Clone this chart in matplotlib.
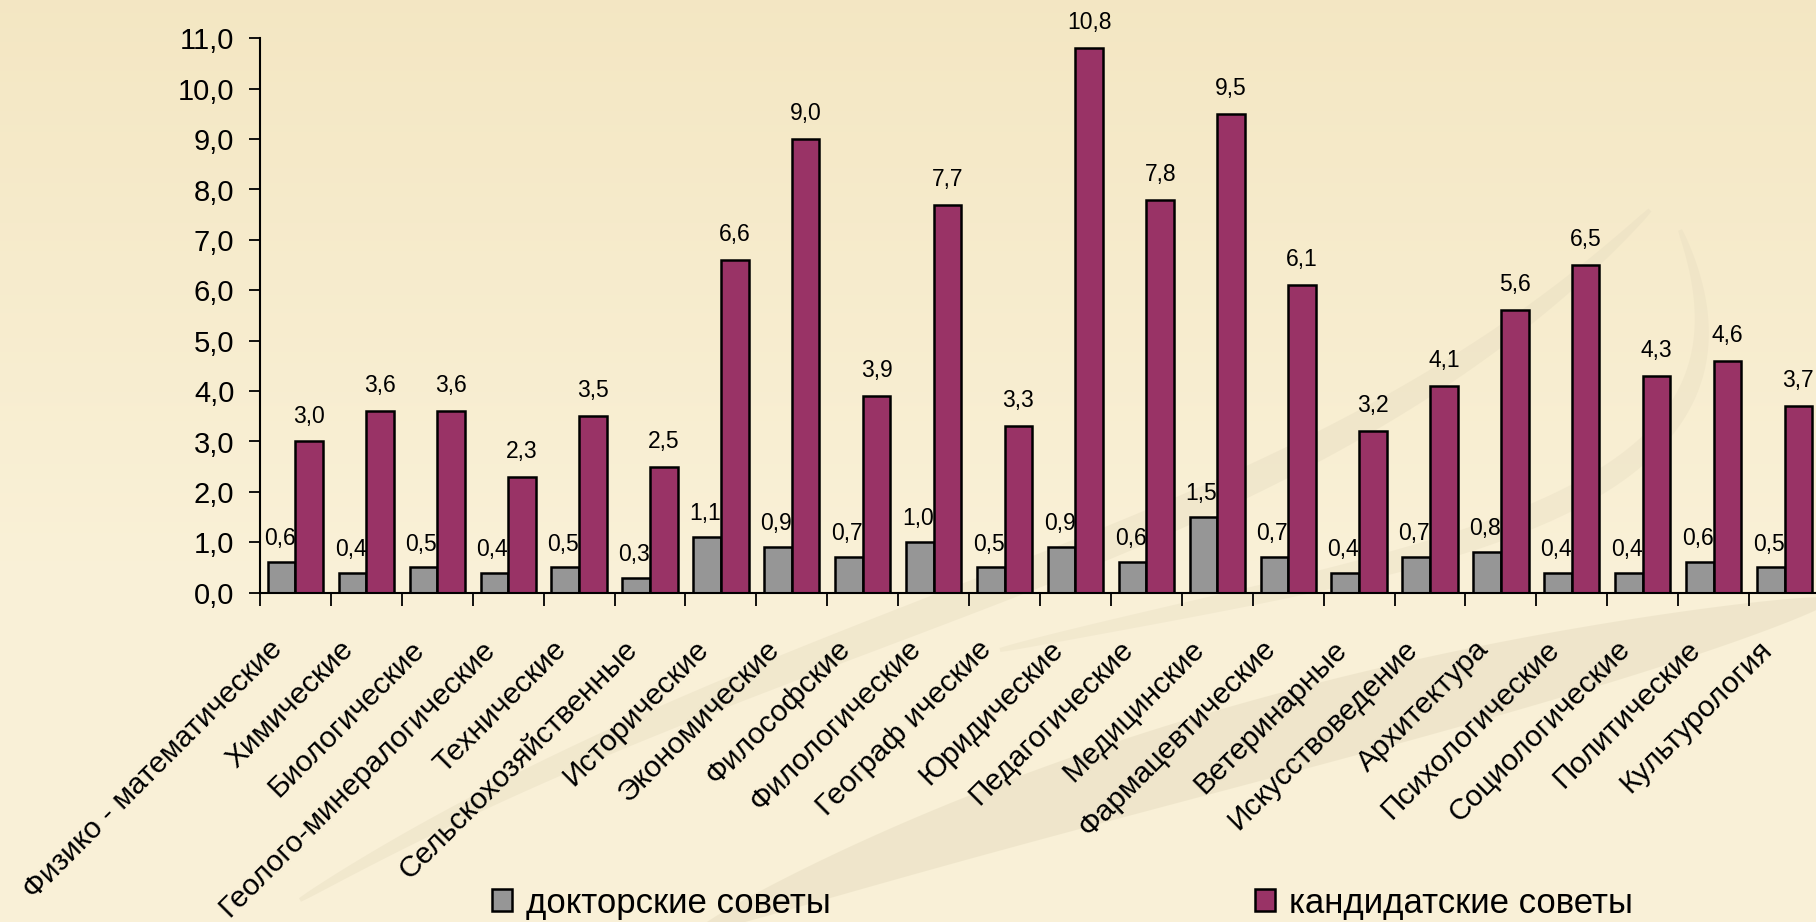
import numpy as np
import matplotlib.pyplot as plt
from matplotlib.patches import Patch, Polygon

categories = ['Физико - математические', 'Химические', 'Биологические',
              'Геолого-минералогические', 'Технические', 'Сельскохозяйственные',
              'Исторические', 'Экономические', 'Философские', 'Филологические',
              'Географ ические', 'Юридические', 'Педагогические', 'Медицинские',
              'Фармацевтические', 'Ветеринарные', 'Искусствоведение', 'Архитектура',
              'Психологические', 'Социологические', 'Политические', 'Культурология']
doctor = [0.6, 0.4, 0.5, 0.4, 0.5, 0.3, 1.1, 0.9, 0.7, 1.0, 0.5,
          0.9, 0.6, 1.5, 0.7, 0.4, 0.7, 0.8, 0.4, 0.4, 0.6, 0.5]
candidate = [3.0, 3.6, 3.6, 2.3, 3.5, 2.5, 6.6, 9.0, 3.9, 7.7, 3.3,
             10.8, 7.8, 9.5, 6.1, 3.2, 4.1, 5.6, 6.5, 4.3, 4.6, 3.7]
yticks = np.arange(0, 12, 1.0)
legend_labels = ['докторские советы', 'кандидатские советы']

W, H = 1816, 922
fig = plt.figure(figsize=(W / 100, H / 100), dpi=100)

# background: gradient + faint swirl
bg = fig.add_axes([0, 0, 1, 1])
bg.set_xlim(0, W)
bg.set_ylim(H, 0)
bg.axis('off')
grad = np.linspace(0, 1, 256).reshape(-1, 1)
c_top = np.array([0.955, 0.905, 0.765])
c_bot = np.array([0.980, 0.945, 0.845])
img = c_top + (c_bot - c_top) * np.clip(grad * 1.6, 0, 1)[:, :, None]
bg.imshow(np.repeat(img, 4, axis=1), extent=[0, W, H, 0], aspect='auto', zorder=0)

def band(p0, p1, p2, p3, w0, w1):
    t = np.linspace(0, 1, 200)
    pts = [np.array(p) for p in (p0, p1, p2, p3)]
    c = ((1 - t) ** 3)[:, None] * pts[0] + (3 * (1 - t) ** 2 * t)[:, None] * pts[1] \
        + (3 * (1 - t) * t ** 2)[:, None] * pts[2] + (t ** 3)[:, None] * pts[3]
    d = np.gradient(c, axis=0)
    n = np.stack([-d[:, 1], d[:, 0]], axis=1)
    n /= np.linalg.norm(n, axis=1)[:, None]
    w = (w0 + (w1 - w0) * np.sin(np.pi * t) ** 0.7)[:, None]
    upper = c + n * w
    lower = c - n * w
    return np.vstack([upper, lower[::-1]])

swirl = '#e6dcc0'
bg.add_patch(Polygon(band((700, 930), (1100, 760), (1500, 680), (1830, 600), 2, 40),
                     color=swirl, alpha=0.5, lw=0))
bg.add_patch(Polygon(band((300, 900), (800, 600), (1300, 560), (1650, 210), 2, 16),
                     color=swirl, alpha=0.4, lw=0))
bg.add_patch(Polygon(band((1000, 650), (1400, 560), (1800, 520), (1680, 230), 2, 12),
                     color=swirl, alpha=0.35, lw=0))

ax = fig.add_axes([260 / W, 329.3 / H, 1560 / W, 554.4 / H])
ax.patch.set_alpha(0)

x = np.arange(len(categories))
w = 0.39
b1 = ax.bar(x - w / 2, doctor, w, color='#969696', edgecolor='black', linewidth=1.8,
            label=legend_labels[0])
b2 = ax.bar(x + w / 2, candidate, w, color='#993366', edgecolor='black', linewidth=1.8,
            label=legend_labels[1])

ax.set_xlim(-0.5, len(categories) - 0.5)
ax.set_ylim(0, 11)
ax.set_yticks(yticks)
ax.set_yticklabels([f'{v:.1f}'.replace('.', ',') for v in yticks],
                   fontsize=21, family=['Liberation Sans', 'DejaVu Sans'])
ax.tick_params(axis='y', length=8, width=1.3, pad=10.5, direction='out')

ax.set_xticks(np.arange(len(categories) + 1) - 0.5)
ax.set_xticklabels([])
ax.tick_params(axis='x', length=9, width=1.3, direction='out')

for s in ['top', 'right']:
    ax.spines[s].set_visible(False)
for s in ['left', 'bottom']:
    ax.spines[s].set_linewidth(1.5)
ax.spines['bottom'].set_clip_on(False)

narrow = ['Liberation Sans Narrow', 'Liberation Sans', 'DejaVu Sans']
for xi, v in zip(x, doctor):
    ax.annotate(f'{v:.1f}'.replace('.', ','), (xi - w / 2, v), xytext=(-2, 17),
                textcoords='offset pixels', ha='center', va='baseline',
                fontsize=16.5, family=narrow, annotation_clip=False)
for xi, v in zip(x, candidate):
    ax.annotate(f'{v:.1f}'.replace('.', ','), (xi + w / 2, v), xytext=(0, 19),
                textcoords='offset pixels', ha='center', va='baseline',
                fontsize=16.5, family=narrow, annotation_clip=False)

for xi, lab in zip(x, categories):
    ax.annotate(lab, (xi, 0), xytext=(-17, -52), textcoords='offset pixels',
                rotation=45, ha='right', va='center', rotation_mode='anchor',
                fontsize=21.5, family=['Liberation Sans', 'DejaVu Sans'],
                annotation_clip=False)

for handle, lab, x0 in [(b1, legend_labels[0], 492), (b2, legend_labels[1], 1255)]:
    p = Patch(facecolor=handle.patches[0].get_facecolor(), edgecolor='black', linewidth=1.8)
    fig.legend([p], [lab], loc='center left', bbox_to_anchor=(x0 / W, 1 - 903 / H),
               frameon=False, borderpad=0, borderaxespad=0,
               handlelength=0.58, handleheight=0.58, handletextpad=0.4,
               prop={'family': ['Liberation Sans', 'DejaVu Sans'], 'size': 25})

fig.savefig('out.png', dpi=100)
